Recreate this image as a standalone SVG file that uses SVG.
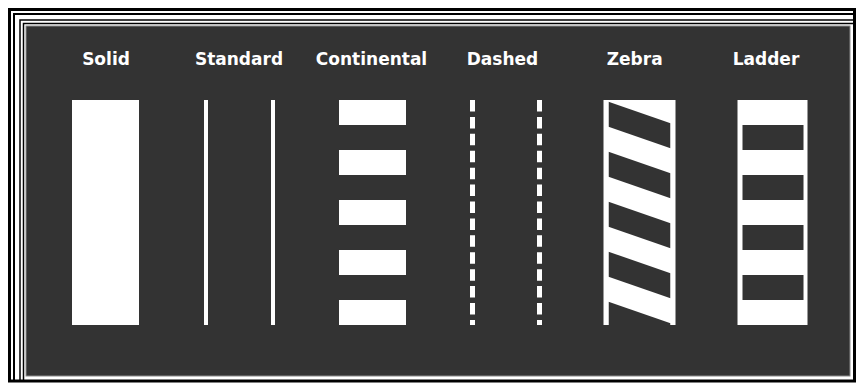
<svg xmlns="http://www.w3.org/2000/svg" width="856" height="388" viewBox="0 0 856 388">
<defs>
<style>
.lbl{font-family:"DejaVu Sans",Verdana,sans-serif;font-weight:bold;font-size:17px;fill:#ffffff;text-anchor:middle}
.w{fill:#ffffff}
.d{fill:#333333}
.frame{fill:none;stroke:#000000}
</style>
<clipPath id="zc"><rect x="608.5" y="100" width="62" height="225"/></clipPath>
</defs>
<rect x="0" y="0" width="856" height="388" fill="#ffffff"/>
<g id="frames">
<rect class="frame" x="14" y="14" width="840.5" height="367" stroke-width="2"/>
<rect class="frame" x="20" y="20" width="834.5" height="361" stroke-width="1.5"/>
<rect class="frame" x="23.5" y="23.5" width="831" height="357.5" stroke-width="1.5"/>
<rect class="frame" x="9.5" y="9.5" width="845" height="371.5" stroke-width="3"/>
</g>
<rect id="panel" x="26" y="26" width="824" height="350" fill="#333333" stroke="#8a8a8a" stroke-width="1"/>
<rect x="851" y="27" width="1.5" height="352" fill="#ffffff"/>
<rect x="27" y="377" width="825" height="2" fill="#ffffff"/>
<g id="solid">
<text class="lbl" x="106" y="64.5">Solid</text>
<rect class="w" x="72" y="100" width="67" height="225"/>
</g>
<g id="standard">
<text class="lbl" x="239" y="64.5">Standard</text>
<rect class="w" x="204" y="100" width="4" height="225"/>
<rect class="w" x="271" y="100" width="4" height="225"/>
</g>
<g id="continental">
<text class="lbl" x="371.5" y="64.5">Continental</text>
<rect class="w" x="339" y="100" width="67" height="25"/>
<rect class="w" x="339" y="150" width="67" height="25"/>
<rect class="w" x="339" y="200" width="67" height="25"/>
<rect class="w" x="339" y="250" width="67" height="25"/>
<rect class="w" x="339" y="300" width="67" height="25"/>
</g>
<g id="dashed">
<text class="lbl" x="502.5" y="64.5">Dashed</text>
<line x1="472.5" y1="100" x2="472.5" y2="325" stroke="#ffffff" stroke-width="5" stroke-dasharray="11.5 5.42"/>
<line x1="539.5" y1="100" x2="539.5" y2="325" stroke="#ffffff" stroke-width="5" stroke-dasharray="11.5 5.42"/>
</g>
<g id="zebra">
<text class="lbl" x="634.7" y="64.5">Zebra</text>
<rect class="w" x="603.5" y="100" width="72" height="225"/>
<g clip-path="url(#zc)" class="d">
<polygon points="608.5,101.7 670.5,123.3 670.5,148.3 608.5,126.7"/>
<polygon points="608.5,151.7 670.5,173.3 670.5,198.3 608.5,176.7"/>
<polygon points="608.5,201.7 670.5,223.3 670.5,248.3 608.5,226.7"/>
<polygon points="608.5,251.7 670.5,273.3 670.5,298.3 608.5,276.7"/>
<polygon points="608.5,301.7 670.5,323.3 670.5,348.3 608.5,326.7"/>
</g>
</g>
<g id="ladder">
<text class="lbl" x="766" y="64.5">Ladder</text>
<rect class="w" x="737.5" y="100" width="70" height="225"/>
<rect class="d" x="742.5" y="125" width="61" height="25"/>
<rect class="d" x="742.5" y="175" width="61" height="25"/>
<rect class="d" x="742.5" y="225" width="61" height="25"/>
<rect class="d" x="742.5" y="275" width="61" height="25"/>
</g>
<g id="connectors"/>
</svg>
